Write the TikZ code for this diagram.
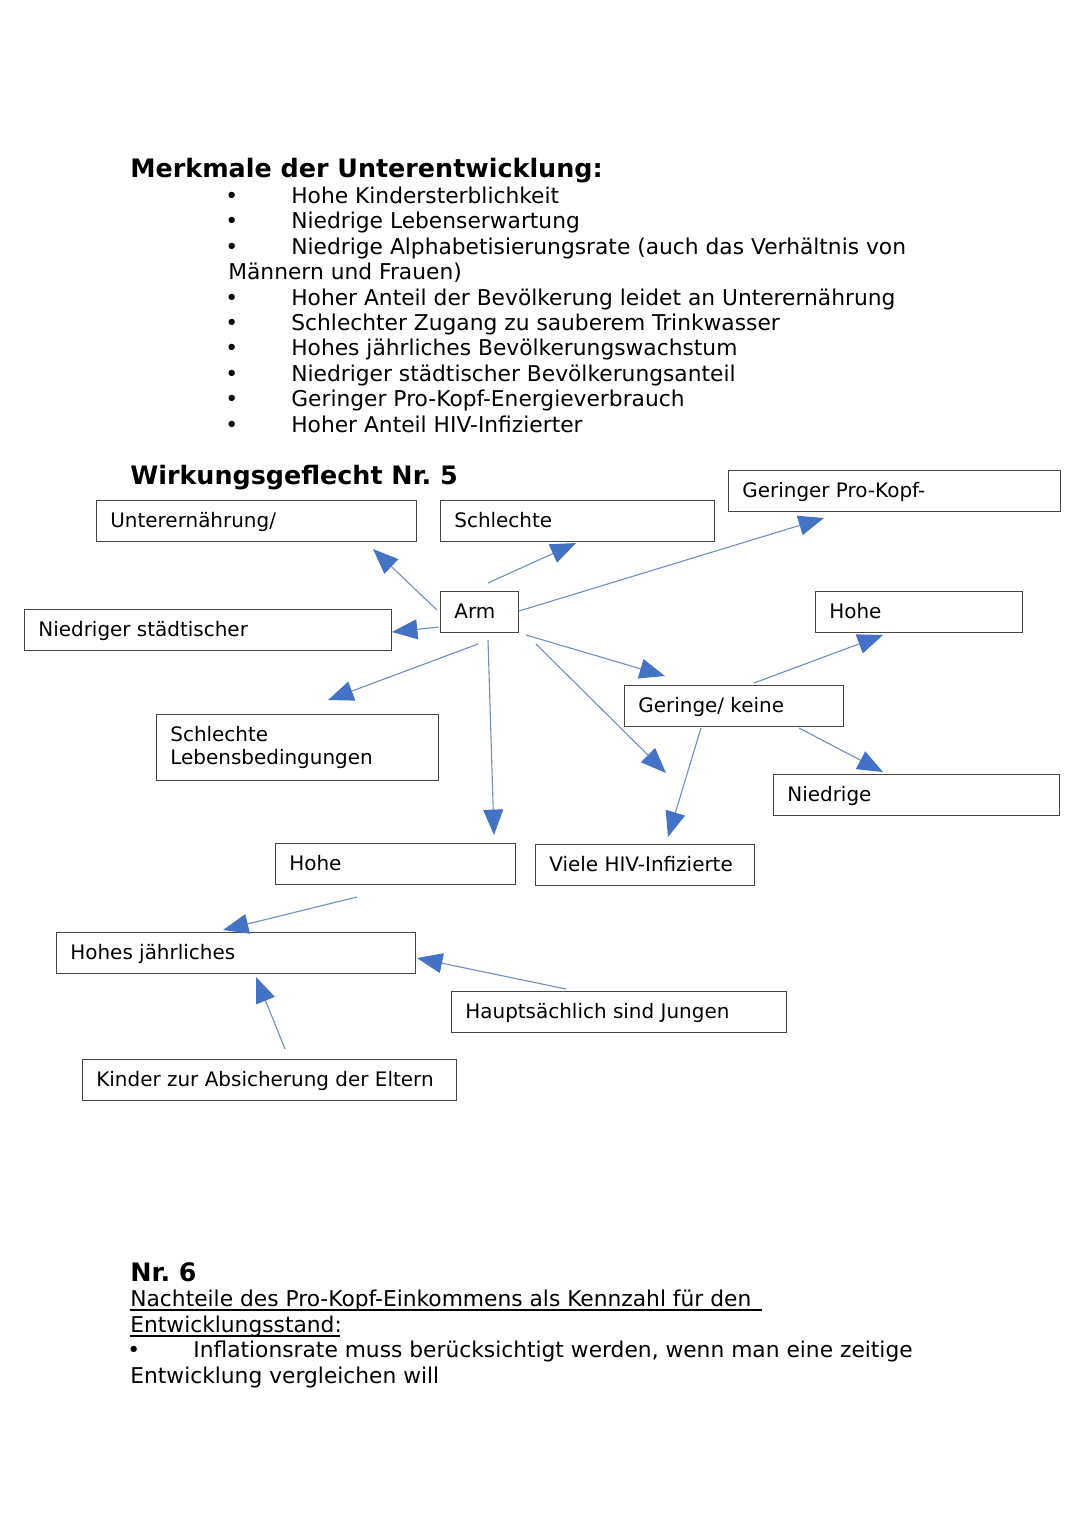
\documentclass[tikz,border=0pt]{standalone}
\usepackage{fontspec}
\setmainfont{DejaVu Sans}
\usetikzlibrary{arrows.meta,calc}
\definecolor{lineblue}{RGB}{112,140,196}
\definecolor{headblue}{RGB}{68,114,196}
\definecolor{boxgray}{RGB}{70,70,70}
\newcommand\mybox[6]{%
  \node[box, anchor=north west, minimum width={(#4-#2)*0.5513pt}, minimum height={(#5-#3)*0.5513pt}] (#1) at (#2,#3) {};
  \node[btxt] (#1t) at (#2+14,#3+27) {#6};}
\begin{document}
\frenchspacing
\begin{tikzpicture}[x=0.5513pt, y=-0.5513pt,
  box/.style={draw=boxgray, line width=0.7pt, fill=white, inner sep=0pt, rectangle},
  txt/.style={inner sep=0pt, anchor=base west, font=\fontsize{12}{14}\selectfont},
  btxt/.style={inner sep=0pt, anchor=base west, font=\fontsize{11}{13}\selectfont},
  ttl/.style={inner sep=0pt, anchor=base west, font=\fontsize{14}{16}\selectfont\bfseries},
  conn/.style={draw=lineblue, line width=0.6pt, -{Triangle[length=14pt,width=11pt,fill=headblue,color=headblue]}}]
\useasboundingbox (0,0) rectangle (1080,1527);
\fill[white] (0,0) rectangle (1080,1527);

% ---- list ----
\node[ttl] (t1) at (130,177) {Merkmale der Unterentwicklung:};
\foreach \y/\t [count=\i] in {203.5/Hohe Kindersterblichkeit, 228.5/Niedrige Lebenserwartung, 254.5/Niedrige Alphabetisierungsrate (auch das Verhältnis von, 305.5/Hoher Anteil der Bevölkerung leidet an Unterernährung, 330.5/Schlechter Zugang zu sauberem Trinkwasser, 355.5/Hohes jährliches Bevölkerungswachstum, 381.5/Niedriger städtischer Bevölkerungsanteil, 406.5/Geringer Pro-Kopf-Energieverbrauch, 432.5/Hoher Anteil HIV-Infizierter}{
  \node[txt] (b\i) at (225,\y) {•};
  \node[txt] (l\i) at (291,\y) {\t};
}
\node[txt] (l3b) at (228,279.5) {Männern und Frauen)};

% ---- diagram ----
\node[ttl] (t2) at (130,484) {Wirkungsgeflecht Nr. 5};
\mybox{under}{96}{500}{416}{541}{Unterernährung/}
\mybox{schl}{440}{500}{714}{541}{Schlechte}
\mybox{gpk}{728}{470}{1060}{511}{Geringer Pro-Kopf-}
\mybox{arm}{440}{591}{518}{632}{Arm}
\mybox{nst}{24}{609}{391}{650}{Niedriger städtischer}
\mybox{hoher}{815}{591}{1022}{632}{Hohe}
\mybox{gk}{624}{685}{843}{726}{Geringe/ keine}
\mybox{slb}{156}{714}{438}{780}{Schlechte}
\node[btxt] (slbt2) at (170,764) {Lebensbedingungen};
\mybox{nied}{773}{774}{1059}{815}{Niedrige}
\mybox{hohu}{275}{843}{515}{884}{Hohe}
\mybox{hiv}{535}{844}{754}{885}{Viele HIV-Infizierte}
\mybox{hjw}{56}{932}{415}{973}{Hohes jährliches}
\mybox{hsj}{451}{991}{786}{1032}{Hauptsächlich sind Jungen}
\mybox{kin}{82}{1059}{456}{1100}{Kinder zur Absicherung der Eltern}

% connectors
\coordinate (s1) at (437,610); \coordinate (e1) at (373,549);
\coordinate (s2) at (488,583); \coordinate (e2) at (576,543);
\coordinate (s3) at (519,611); \coordinate (e3) at (824,518);
\coordinate (s4) at (439,627); \coordinate (e4) at (392,632);
\coordinate (s5) at (478,644); \coordinate (e5) at (328,700);
\coordinate (s6) at (488,640); \coordinate (e6) at (494,835);
\coordinate (s7) at (526,635); \coordinate (e7) at (665,676);
\coordinate (s8) at (536,644); \coordinate (e8) at (666,773);
\coordinate (s9) at (754,683); \coordinate (e9) at (883,635);
\coordinate (s10) at (799,728); \coordinate (e10) at (883,772);
\coordinate (s11) at (701,728); \coordinate (e11) at (668,837);
\coordinate (s12) at (357,897); \coordinate (e12) at (223,930);
\coordinate (s13) at (566,989); \coordinate (e13) at (417,958);
\coordinate (s14) at (285,1049); \coordinate (e14) at (256,977);
\foreach \i in {1,...,14}{\draw[conn] (s\i) -- (e\i);}

% ---- Nr. 6 ----
\node[ttl] (t3) at (130,1281) {Nr. 6};
\node[txt] (n6a) at (130,1306.5) {Nachteile des Pro-Kopf-Einkommens als Kennzahl für den};
\node[txt] (n6b) at (130,1332.5) {Entwicklungsstand:};
\coordinate (u1) at (762,1310); \coordinate (u2) at (340,1336);
\draw[line width=0.7pt] (n6a.base west)++(0,3.5) -- (u1);
\draw[line width=0.7pt] (n6b.base west)++(0,3.5) -- (u2);
\node[txt] (n6bul) at (127,1357.5) {•};
\node[txt] (n6c) at (193,1357.5) {Inflationsrate muss berücksichtigt werden, wenn man eine zeitige};
\node[txt] (n6d) at (130,1383) {Entwicklung vergleichen will};
\end{tikzpicture}
\end{document}
